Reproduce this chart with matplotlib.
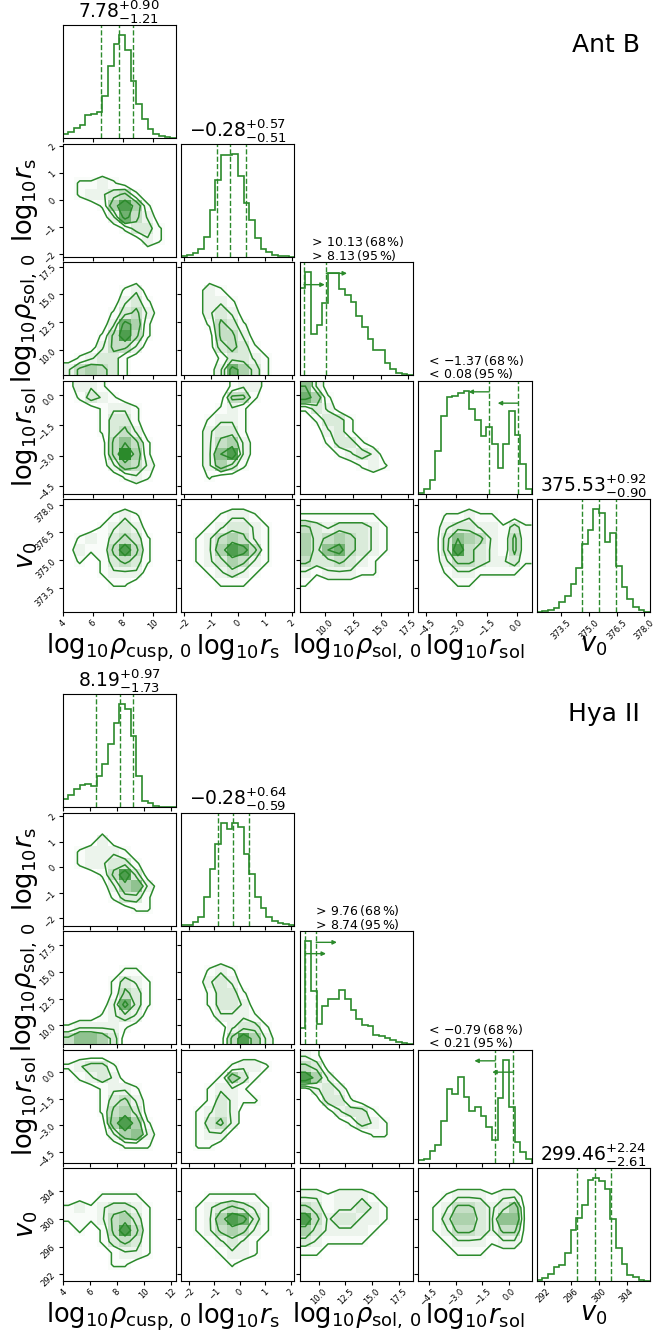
import numpy as np
import matplotlib

matplotlib.use("Agg")
import matplotlib.pyplot as plt
from matplotlib.colors import LinearSegmentedColormap, PowerNorm

# figure geometry in pixels (659 x 1336 at 100 dpi)
W, H = 659, 1336
X0, STEP, SIZE = 62.7, 118.5, 113.3
GREEN = "#2b8a2b"

labels = [
    r"$\mathrm{log}_{10}\rho_{\rm cusp,\,0}$",
    r"$\mathrm{log}_{10}r_{\rm s}$",
    r"$\mathrm{log}_{10}\rho_{\rm sol,\,0}$",
    r"$\mathrm{log}_{10}r_{\rm sol}$",
    r"$v_0$",
]

# ---------------- Ant B ----------------
antb_ranges = [(4.0, 11.55), (-2.1, 2.1), (7.74, 17.92), (-4.9, 0.73), (372.2, 378.3)]
antb_ticks = [[4, 6, 8, 10], [-2, -1, 0, 1, 2], [10.0, 12.5, 15.0, 17.5],
              [-4.5, -3.0, -1.5, 0.0], [373.5, 375.0, 376.5, 378.0]]

antb_hist_rhocusp = [12, 20, 30, 40, 70, 72, 77, 127, 215, 282, 307, 264, 172, 102, 57, 27, 12, 7, 3, 1]
antb_hist_rs = [2, 4, 10, 22, 60, 140, 228, 302, 302, 305, 238, 160, 110, 55, 23, 15, 5, 3, 1, 0]
antb_hist_rhosol = [260, 308, 123, 149, 217, 305, 305, 257, 240, 218, 177, 143, 110, 75, 75, 37, 20, 8, 3, 1]
antb_hist_rsol = [2, 13, 40, 128, 231, 288, 292, 298, 306, 253, 218, 173, 198, 148, 78, 148, 246, 176, 88, 15]
antb_hist_v0 = [1, 3, 8, 14, 30, 47, 84, 132, 202, 242, 304, 294, 207, 234, 137, 74, 40, 17, 7, 2]

# median, +err, -err
antb_rhocusp_stats = (7.78, 0.90, 1.21)
antb_rs_stats = (-0.28, 0.57, 0.51)
antb_v0_stats = (375.53, 0.92, 0.90)
# one-sided limits: 68 %, 95 %
antb_rhosol_lower = (10.13, 8.13)
antb_rsol_upper = (-1.37, 0.08)

# 2D densities, 10x10 cells over the panel, top row first
antb_rs_vs_rhocusp = [
    "0000000000", "0000000000", "0000000000", "0112100000", "0122341000",
    "0001585100", "0000274200", "0000013310", "0000000210", "0000000000",
]
antb_rhosol_vs_rhocusp = [
    "0000000000", "0000000000", "0000012000", "0000023100", "0000134200",
    "0000275100", "0001484100", "0002442000", "0123310000", "2454310000",
]
antb_rhosol_vs_rs = [
    "0000000000", "0000000000", "0021000000", "0022100000", "0023200000",
    "0014310000", "0004420000", "0003431000", "0001332100", "0002753100",
]
antb_rsol_vs_rhocusp = [
    "0221000000", "0132100000", "0001221000", "0001331000", "0001342000",
    "0000464100", "0000495100", "0000254200", "0000012100", "0000000000",
]
antb_rsol_vs_rs = [
    "0000122000", "0000441000", "0001210000", "0012210000", "0023310000",
    "0024520000", "0026820000", "0025310000", "0010000000", "0000000000",
]
antb_rsol_vs_rhosol = [
    "6200000000", "7510000000", "1320000000", "0133100000", "0023100000",
    "0013310000", "0001232000", "0000012100", "0000000000", "0000000000",
]
antb_v0_vs_rhocusp = [
    "0000000000", "0000121000", "0001232000", "0121343100", "0211484100",
    "0101343100", "0001222000", "0000110000", "0000000000", "0000000000",
]
antb_v0_vs_rs = [
    "0000000000", "0001221000", "0012332100", "0124542100", "0125874100",
    "0123542100", "0012321000", "0001110000", "0000000000", "0000000000",
]
antb_v0_vs_rhosol = [
    "0000000000", "1111111000", "4323332100", "5345432100", "5367432100",
    "4334321000", "2122211000", "1000000000", "0000000000", "0000000000",
]
antb_v0_vs_rsol = [
    "0000000000", "0011211000", "0023322131", "0036542141", "0038432141",
    "0024432231", "0012211110", "0001100000", "0000000000", "0000000000",
]

# ---------------- Hya II ----------------
hya_ranges = [(3.95, 12.4), (-2.3, 2.14), (8.22, 18.81), (-5.1, 1.25), (291.0, 307.4)]
hya_ticks = [[4, 6, 8, 10, 12], [-2, -1, 0, 1, 2], [10.0, 12.5, 15.0, 17.5],
             [-4.5, -3.0, -1.5, 0.0], [292, 296, 300, 304]]

hya_hist_rhocusp = [25, 38, 55, 68, 70, 65, 93, 128, 190, 253, 308, 293, 213, 93, 20, 13, 5, 2, 1, 0]
hya_hist_rs = [1, 3, 10, 25, 85, 170, 245, 307, 290, 305, 295, 215, 155, 85, 53, 25, 13, 7, 5, 3]
hya_hist_rhosol = [50, 310, 160, 62, 115, 137, 135, 162, 135, 102, 75, 58, 55, 28, 25, 18, 12, 6, 3, 2]
hya_hist_rsol = [8, 11, 34, 53, 124, 221, 206, 256, 196, 156, 166, 141, 106, 68, 193, 308, 166, 61, 31, 11]
hya_hist_v0 = [3, 10, 22, 42, 50, 85, 152, 188, 228, 302, 307, 300, 275, 185, 98, 52, 18, 13, 5, 2]

hya_rhocusp_stats = (8.19, 0.97, 1.73)
hya_rs_stats = (-0.28, 0.64, 0.59)
hya_v0_stats = (299.46, 2.24, 2.61)
hya_rhosol_lower = (9.76, 8.74)
hya_rsol_upper = (-0.79, 0.21)

hya_rs_vs_rhocusp = [
    "0000000000", "0000000000", "0002000000", "0122210000", "0122331000",
    "0001483000", "0000256200", "0000133100", "0000001100", "0000000000",
]
hya_rhosol_vs_rhocusp = [
    "0000000000", "0000000000", "0000000000", "0000011000", "0000132100",
    "0000143100", "0000273100", "0001232000", "1222210000", "4665300000",
]
hya_rhosol_vs_rs = [
    "0000000000", "0000000000", "0000000000", "0012100000", "0023200000",
    "0013310000", "0013320000", "0002221000", "0000233100", "0000485200",
]
hya_rsol_vs_rhocusp = [
    "0000000000", "1233100000", "0123200000", "0001221000", "0001342000",
    "0001453000", "0000585100", "0000256200", "0000011100", "0000000000",
]
hya_rsol_vs_rs = [
    "0000000000", "0000122100", "0001531000", "0012210000", "0013211000",
    "0123200000", "0134200000", "0122000000", "0110000000", "0000000000",
]
hya_rsol_vs_rhosol = [
    "2100000000", "4300000000", "8520000000", "0232000000", "0033100000",
    "0002331000", "0000132100", "0000001100", "0000000000", "0000000000",
]
hya_v0_vs_rhocusp = [
    "0000000000", "0000000000", "0001111000", "1212332100", "1112453100",
    "0101484100", "0001343100", "0000122100", "0000110000", "0000000000",
]
hya_v0_vs_rs = [
    "0000000000", "0000000000", "0011111000", "0123432100", "0125873100",
    "0124542100", "0012321000", "0001221000", "0000100000", "0000000000",
]
hya_v0_vs_rhosol = [
    "0000000000", "0000000000", "2212221000", "4312232100", "8423322100",
    "5322221000", "3211110000", "1100000000", "0000000000", "0000000000",
]
hya_v0_vs_rsol = [
    "0000000000", "0000000000", "0012221220", "0124432350", "0135532660",
    "0124432440", "0012221220", "0001110000", "0000000000", "0000000000",
]

dens_cmap = LinearSegmentedColormap.from_list("dens", ["#ffffff", GREEN])
contour_levels = [0.8, 2.2, 3.6, 6.0]


def panel_2d(ax, grid, xr, yr):
    z = np.array([[int(c) for c in row] for row in grid], dtype=float)[::-1]
    ny, nx = z.shape
    xe = np.linspace(xr[0], xr[1], nx + 1)
    ye = np.linspace(yr[0], yr[1], ny + 1)
    ax.pcolormesh(xe, ye, np.ma.masked_less(z, 0.5), cmap=dens_cmap,
                  norm=PowerNorm(1.6, vmin=0, vmax=9))
    # cell centres plus the panel edges so the contours reach the frame
    xc = np.concatenate([[xr[0]], 0.5 * (xe[1:] + xe[:-1]), [xr[1]]])
    yc = np.concatenate([[yr[0]], 0.5 * (ye[1:] + ye[:-1]), [yr[1]]])
    ax.contour(xc, yc, np.pad(z, 1, mode="edge"), levels=contour_levels,
               colors=GREEN, linewidths=1.1)


def panel_1d(ax, counts, xr):
    edges = np.linspace(xr[0], xr[1], len(counts) + 1)
    ax.stairs(counts, edges, color=GREEN, lw=1.2)
    ax.set_ylim(0, 1.1 * max(counts))
    ax.set_yticks([])


def two_sided(ax, stats):
    med, up, lo = stats
    for v in (med - lo, med, med + up):
        ax.axvline(v, color=GREEN, ls="--", lw=1.0)
    ax.set_title(rf"${med:.2f}^{{+{up:.2f}}}_{{-{lo:.2f}}}$", fontsize=13.5, pad=0)


def one_sided(ax, limits, sign, xr):
    length = 0.183 * (xr[1] - xr[0]) * sign
    sym = ">" if sign > 0 else "<"
    for v, yf in zip(limits, (0.9, 0.8)):
        ax.axvline(v, color=GREEN, ls="--", lw=1.0)
        ax.annotate("", xy=(v + length, yf), xytext=(v, yf),
                    xycoords=ax.get_xaxis_transform(),
                    arrowprops=dict(arrowstyle="-|>", color=GREEN, lw=1.0,
                                    mutation_scale=6, shrinkA=0, shrinkB=0))
    text = (rf"${sym}\,{{{limits[0]:.2f}}}\,(68\,\%)$" + "\n"
            + rf"${sym}\,{{{limits[1]:.2f}}}\,(95\,\%)$")
    ax.text(0.5, 0.995, text, transform=ax.transAxes, ha="center", va="bottom",
            multialignment="left", fontsize=9, linespacing=0.85)


def draw_corner(fig, top_px, name, ranges, ticks, hists, dens, diag_notes):
    for i in range(5):
        for j in range(i + 1):
            rect = [(X0 + j * STEP) / W, 1 - (top_px + i * STEP + SIZE) / H,
                    SIZE / W, SIZE / H]
            ax = fig.add_axes(rect)
            if i == j:
                panel_1d(ax, hists[i], ranges[i])
                diag_notes[i](ax)
            else:
                panel_2d(ax, dens[(i, j)], ranges[j], ranges[i])
                ax.set_ylim(ranges[i])
                ax.set_yticks(ticks[i])
                if j == 0:
                    ax.set_ylabel(labels[i], fontsize=18.5)
                    ax.yaxis.set_label_coords(-0.2, 0.5)
                else:
                    ax.set_yticklabels([])
            ax.set_xlim(ranges[j])
            ax.set_xticks(ticks[j])
            if i == 4:
                ax.set_xlabel(labels[j], fontsize=18.5)
                ax.xaxis.set_label_coords(0.5, -0.17)
            else:
                ax.set_xticklabels([])
            ax.tick_params(labelsize=6, length=3, width=0.8, pad=1)
            for lbl in ax.get_xticklabels() + ax.get_yticklabels():
                lbl.set_rotation(45)
    fig.text(640 / W, 1 - (top_px + 20) / H, name, ha="right", va="center", fontsize=18)


fig = plt.figure(figsize=(W / 100, H / 100), dpi=100)

antb_dens = {
    (1, 0): antb_rs_vs_rhocusp, (2, 0): antb_rhosol_vs_rhocusp, (2, 1): antb_rhosol_vs_rs,
    (3, 0): antb_rsol_vs_rhocusp, (3, 1): antb_rsol_vs_rs, (3, 2): antb_rsol_vs_rhosol,
    (4, 0): antb_v0_vs_rhocusp, (4, 1): antb_v0_vs_rs, (4, 2): antb_v0_vs_rhosol,
    (4, 3): antb_v0_vs_rsol,
}
draw_corner(
    fig, 25, "Ant B", antb_ranges, antb_ticks,
    [antb_hist_rhocusp, antb_hist_rs, antb_hist_rhosol, antb_hist_rsol, antb_hist_v0],
    antb_dens,
    [lambda ax: two_sided(ax, antb_rhocusp_stats),
     lambda ax: two_sided(ax, antb_rs_stats),
     lambda ax: one_sided(ax, antb_rhosol_lower, 1, antb_ranges[2]),
     lambda ax: one_sided(ax, antb_rsol_upper, -1, antb_ranges[3]),
     lambda ax: two_sided(ax, antb_v0_stats)],
)

hya_dens = {
    (1, 0): hya_rs_vs_rhocusp, (2, 0): hya_rhosol_vs_rhocusp, (2, 1): hya_rhosol_vs_rs,
    (3, 0): hya_rsol_vs_rhocusp, (3, 1): hya_rsol_vs_rs, (3, 2): hya_rsol_vs_rhosol,
    (4, 0): hya_v0_vs_rhocusp, (4, 1): hya_v0_vs_rs, (4, 2): hya_v0_vs_rhosol,
    (4, 3): hya_v0_vs_rsol,
}
draw_corner(
    fig, 694, "Hya II", hya_ranges, hya_ticks,
    [hya_hist_rhocusp, hya_hist_rs, hya_hist_rhosol, hya_hist_rsol, hya_hist_v0],
    hya_dens,
    [lambda ax: two_sided(ax, hya_rhocusp_stats),
     lambda ax: two_sided(ax, hya_rs_stats),
     lambda ax: one_sided(ax, hya_rhosol_lower, 1, hya_ranges[2]),
     lambda ax: one_sided(ax, hya_rsol_upper, -1, hya_ranges[3]),
     lambda ax: two_sided(ax, hya_v0_stats)],
)

fig.savefig("out.png", dpi=100)
